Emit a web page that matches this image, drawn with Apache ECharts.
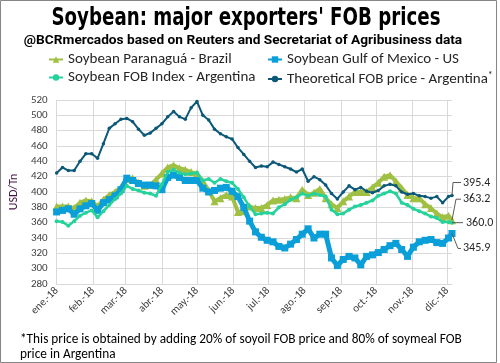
<!DOCTYPE html>
<html><head><meta charset="utf-8">
<script src="https://cdn.jsdelivr.net/npm/echarts/dist/echarts.min.js"></script>
<style>html,body{margin:0;padding:0;background:#fff}#c{width:500px;height:363px}</style>
</head><body><div id="c"></div><script>
const monthLabels = ['ene.-18','feb.-18','mar.-18','abr.-18','may.-18','jun.-18','jul.-18','ago.-18','sep.-18','oct.-18','nov.-18','dic.-18'];
// sample positions: days since 1 Jan 2018
const sampleDays = [0,5,10,15,20,25,30,35,40,45,50,55,60,65,70,75,80,85,90,95,100,105,110,115,120,125,130,135,140,145,150,155,160,165,170,175,180,185,190,195,200,205,210,215,220,225,230,235,240,245,250,255,260,265,270,275,280,285,290,295,300,305,310,315,320,325,330,335,338];
const brazil = [381,381,381,379,386,389,388,381,390,396,400,406,417,418,412,408,409,416,424,432,435,431,429,426,424,414,402,388,392,396,394,374,375,381,379,379,383,389,390,391,393,392,403,396,399,404,392,384,379,388,394,400,400,400,406,412,420,422,414,405,396,392,392,384,379,372,367,369,363.2];
const gulfUS = [374,376,378,371,378,382,385,376,386,390,395,403,418,415,411,409,409,408,403,419,422,419,415,415,415,405,400,402,405,406,401,394,380,362,348,341,337,335,329,327,332,338,345,352,340,345,345,314,304,312,316,314,305,316,318,321,325,330,333,325,316,328,335,337,338,334,333,340,345.9];
const argIndex = [362,361,356,362,369,373,376,367,375,383,391,398,408,404,402,399,398,395,410,426,429,425,423,424,425,415,417,412,417,414,412,404,393,381,371,372,373,372,380,384,390,393,398,395,398,396,394,377,371,372,377,381,383,386,389,395,398,401,398,386,383,378,375,372,368,366,361,361,360.0];
const theoretical = [424.8,432,428,428,440,450,450,444,463,483,489,495,496,491.7,482,474,477,483,489,498,505,498,495,510,518,500,494,482,476,472,469,458,449,440,432,434,433,439,436,433,430,426,430,414,420,416,409,398,391,400,408,403,406,401,399,402,408,410,408,400,397,398,395,394,392,394,386,394,395.4];
const seriesNames = ['Soybean Paranaguá - Brazil','Soybean Gulf of Mexico - US','Soybean FOB Index - Argentina','Theoretical FOB price - Argentina'];
const endLabels = ['363.2','345.9','360.0','395.4'];
const titleText = "Soybean: major exporters' FOB prices";
const subtitleText = '@BCRmercados based on Reuters and Secretariat of Agribusiness data';
const footnoteText = '*This price is obtained by adding 20% of soyoil FOB price and 80% of soymeal FOB\nprice in Argentina';

const FONT = "Carlito, Lato, 'Noto Sans', sans-serif";
const colors = ['#9fc043','#0a9fd8','#25d29c','#0b5878'];

// calendar days 1 Jan .. 5 Dec 2018
const days = [], monthStart = [];
for (let t = Date.UTC(2018,0,1); t <= Date.UTC(2018,11,5); t += 86400000) {
  const d = new Date(t);
  days.push(d.toISOString().slice(0,10));
  monthStart.push(d.getUTCDate() === 1);
}
const valueSets = [brazil, gulfUS, argIndex, theoretical];
const symbols = ['triangle','rect','circle','circle'];
const symbolSizes = [8,7,4,3.5];
const widths = [4,5,2.5,2];

const chart = echarts.init(document.getElementById('c'), null, {renderer:'canvas'});
const legendPos = [[48,52],[267,52],[48,70],[267,70]];
chart.setOption({
  animation:false,
  grid:{left:43, right:48, top:100, bottom:79, containLabel:false},
  legend: seriesNames.map((n,i)=>({
    data:[n], left:legendPos[i][0], top:legendPos[i][1], padding:0, itemWidth:14, itemHeight:8,
    textStyle:{fontFamily:FONT, fontSize:15, color:'#262626', rich:{s:{fontSize:10, padding:[0,0,8,0], fontFamily:FONT, color:'#262626'}}},
    formatter: i===3 ? (name)=>name+'{s|*}' : undefined
  })),
  xAxis:{
    type:'category', data:days, boundaryGap:false,
    axisLine:{lineStyle:{color:'#d9d9d9'}}, axisTick:{show:false},
    axisLabel:{interval:(i)=>monthStart[i], rotate:45, margin:5, color:'#404040', fontSize:11, fontFamily:FONT,
      formatter:(v)=>monthLabels[parseInt(v.slice(5,7),10)-1]},
    splitLine:{show:true, interval:(i)=>monthStart[i], lineStyle:{color:'#d9d9d9'}}
  },
  yAxis:{
    type:'value', min:280, max:520, interval:20,
    axisLine:{show:false}, axisTick:{show:false},
    axisLabel:{color:'#404040', fontSize:11, fontFamily:FONT, margin:9},
    splitLine:{lineStyle:{color:'#d9d9d9'}},
    name:'USD/Tn', nameLocation:'middle', nameGap:28, nameRotate:90,
    nameTextStyle:{color:'#3f0f3f', fontSize:12, fontFamily:FONT}
  },
  series: valueSets.map((vals,i)=>({
    name:seriesNames[i], type:'line', data:sampleDays.map((d,k)=>[d, vals[k]]),
    symbol:symbols[i], symbolSize:symbolSizes[i], showAllSymbol:true,
    lineStyle:{width:widths[i], color:colors[i]}, itemStyle:{color:colors[i]},
    emphasis:{disabled:true}, z:2+i
  }))
});

// end-value labels with leader lines
const last = sampleDays[sampleDays.length-1];
const offsets = [
  {pts:[[4,-21],[9,-21]], tx:11},
  {pts:[[6,15],[9,15]], tx:11},
  {pts:[[11,0]], tx:14},
  {pts:[[1,-13],[9,-13]], tx:11}
];
const g = [];
valueSets.forEach((vals,i)=>{
  const p = chart.convertToPixel({gridIndex:0}, [last, vals[vals.length-1]]);
  const o = offsets[i];
  const pts = [[p[0],p[1]]].concat(o.pts.map(q=>[p[0]+q[0], p[1]+q[1]]));
  const ly = pts[pts.length-1][1];
  g.push({type:'polyline', shape:{points:pts}, style:{stroke:'#595959', lineWidth:1, fill:null}, z:20});
  g.push({type:'text', x:p[0]+o.tx, y:ly, style:{text:endLabels[i], fontFamily:FONT, fontSize:12, fill:'#262626', verticalAlign:'middle', align:'left'}, z:20});
});
g.push({type:'text', x:246, y:6, scaleX:0.81, style:{text:titleText, align:'center', verticalAlign:'top',
  fontFamily:"'Liberation Sans Narrow','DejaVu Sans Condensed',sans-serif", fontWeight:'bold', fontSize:25, fill:'#000'}});
g.push({type:'text', x:243, y:34, style:{text:subtitleText, align:'center', verticalAlign:'top',
  fontFamily:"Roboto, sans-serif", fontWeight:'bold', fontSize:13.7, fill:'#000'}});
g.push({type:'text', x:20, y:332, style:{text:footnoteText, fontFamily:FONT, fontSize:13.3, lineHeight:15, fill:'#000', verticalAlign:'top'}});
g.push({type:'rect', shape:{x:0.5,y:0.5,width:496,height:362}, style:{stroke:'#868686', fill:null, lineWidth:1}, z:30});
chart.setOption({graphic:g});
</script></body></html>
